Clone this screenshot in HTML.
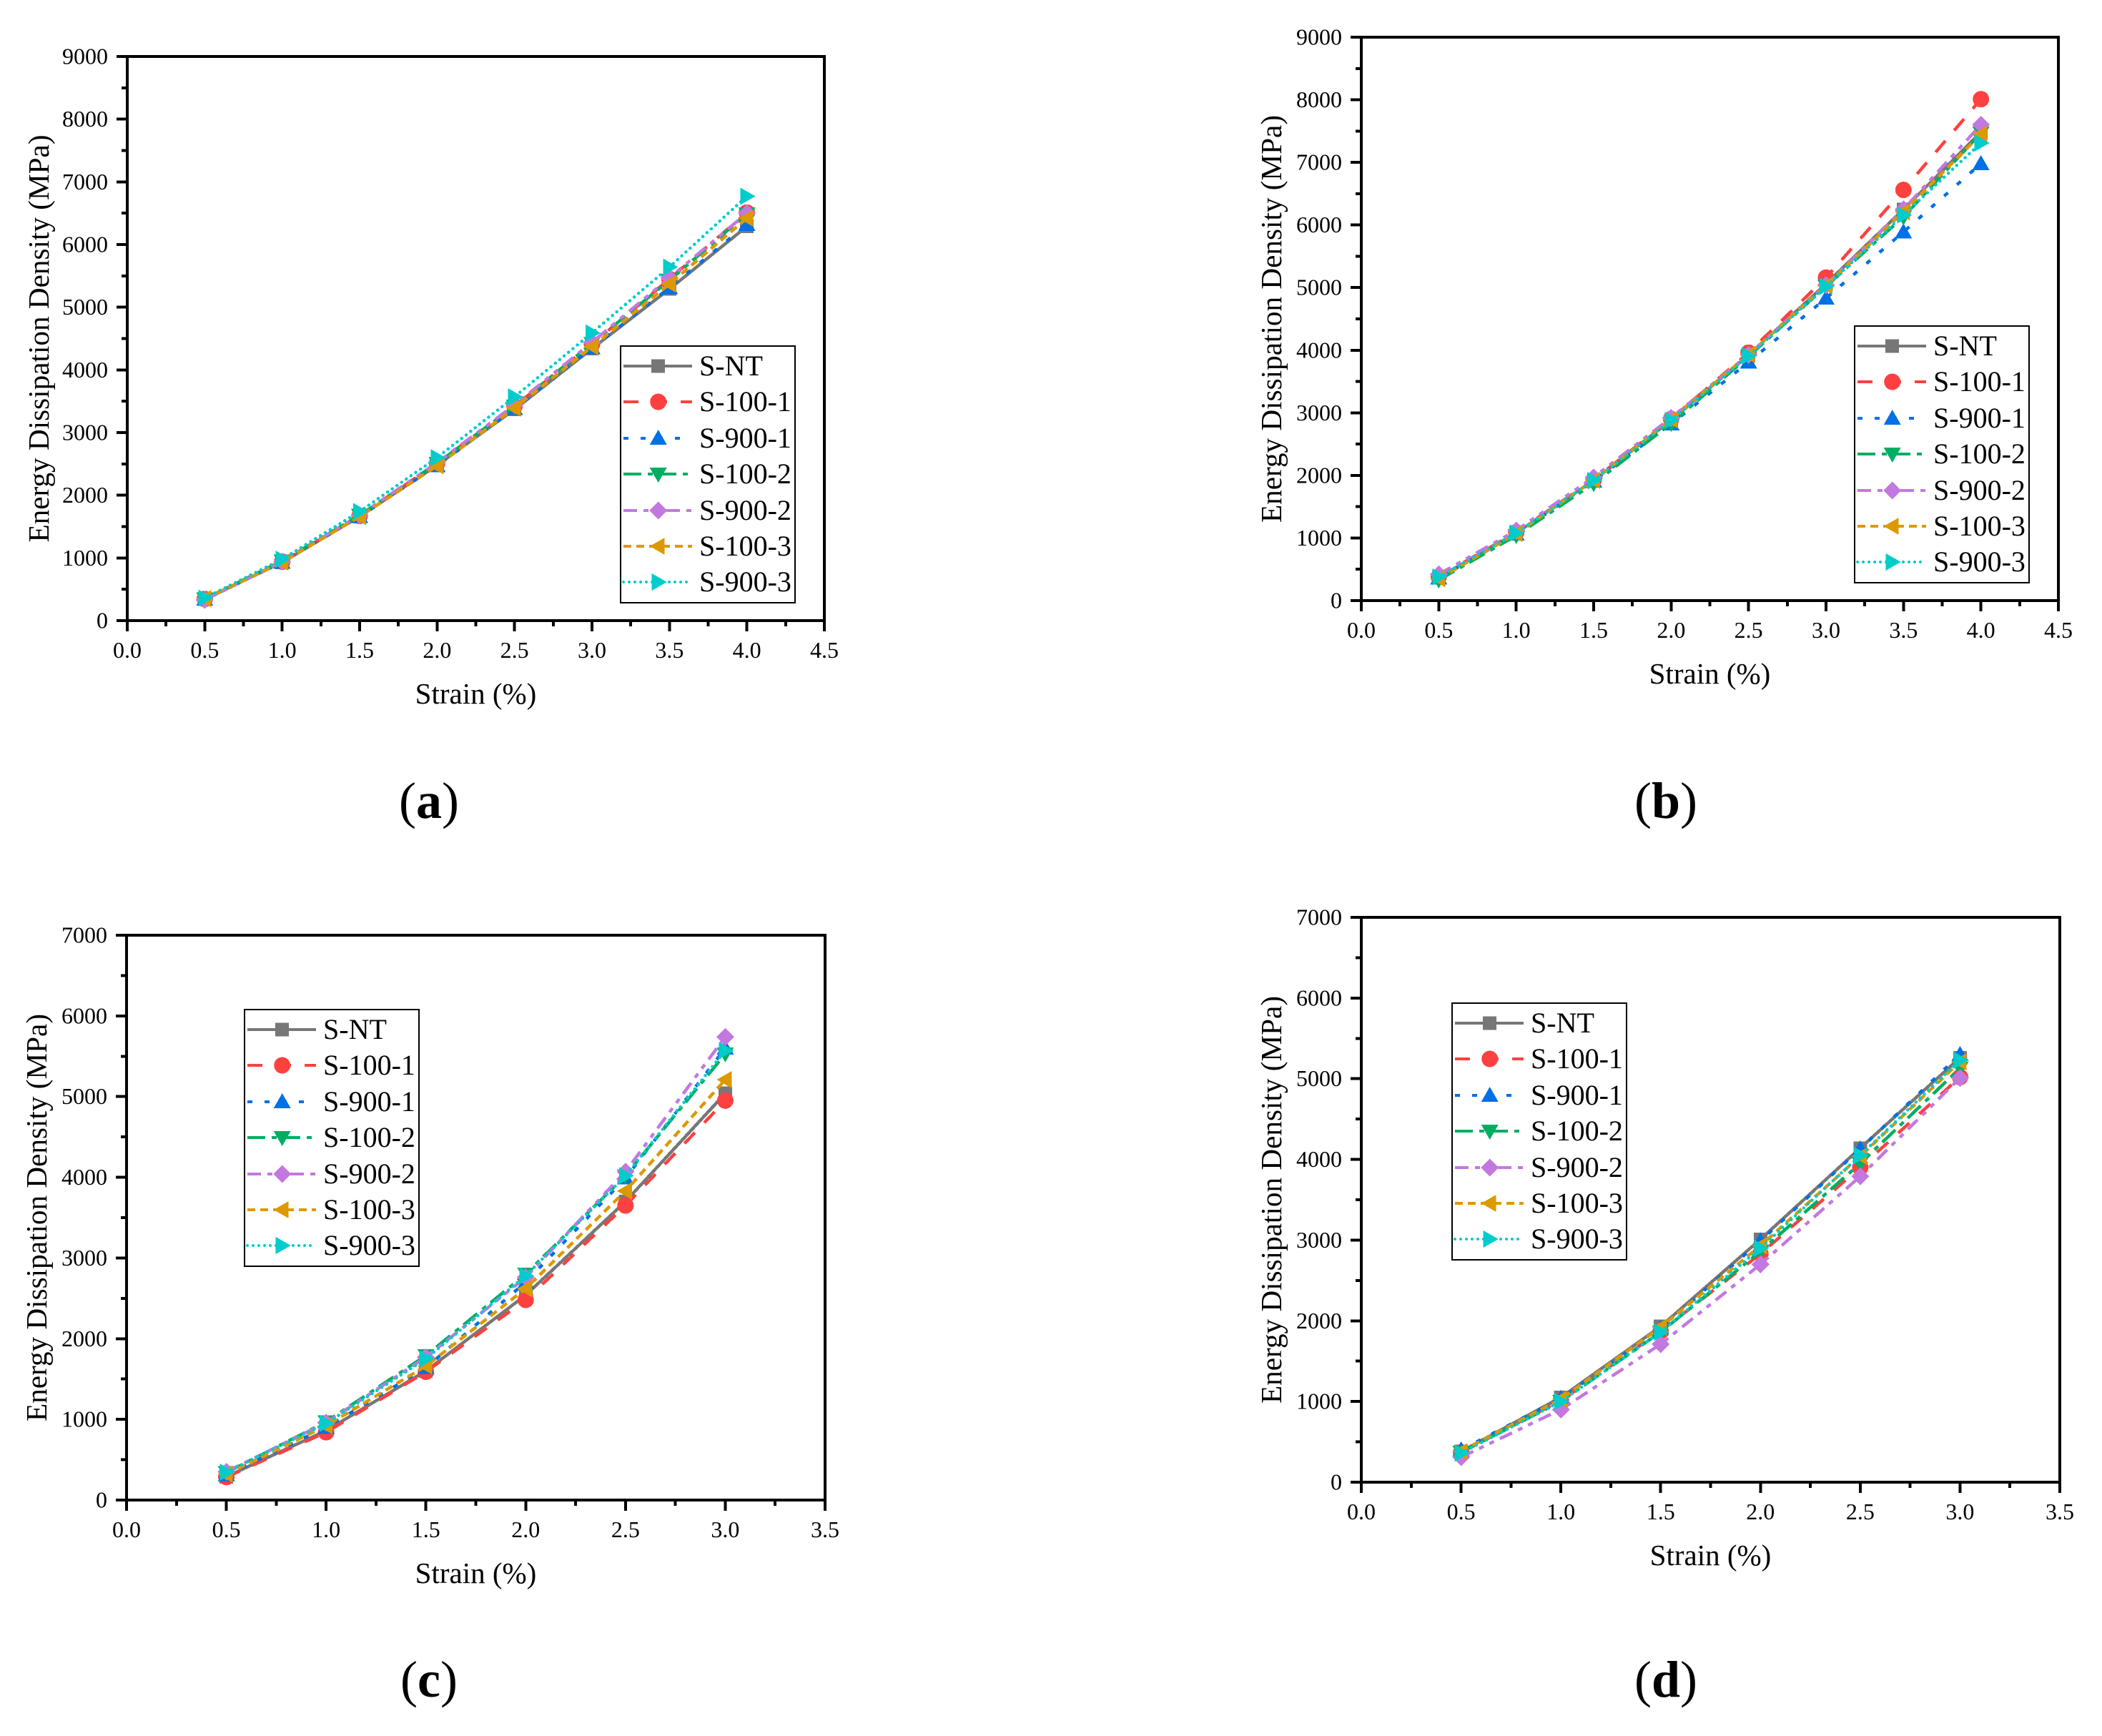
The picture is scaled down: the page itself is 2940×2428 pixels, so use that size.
<!DOCTYPE html>
<html lang="en">
<head>
<meta charset="utf-8">
<title>Energy dissipation density versus strain</title>
<style>
html,body{margin:0;padding:0;background:#fff;}
#figure{display:block;width:2940px;height:2428px;background:#fff;font-family:"Liberation Serif",serif;}
polyline,line,rect,polygon,circle{shape-rendering:crispEdges;}
</style>
</head>
<body>
<svg id="figure" xmlns="http://www.w3.org/2000/svg" width="2940" height="2428" viewBox="0 0 2940 2428"></svg>
<script>
// ---- data ----
const seriesNames = ['S-NT','S-100-1','S-900-1','S-100-2','S-900-2','S-100-3','S-900-3'];
const strainLong = [0.5,1.0,1.5,2.0,2.5,3.0,3.5,4.0];
const strainShort = [0.5,1.0,1.5,2.0,2.5,3.0];

const panelA_NT   = [340,930,1660,2480,3370,4340,5290,6290];
const panelA_1001 = [345,940,1670,2510,3420,4410,5450,6510];
const panelA_9001 = [340,930,1660,2470,3380,4350,5310,6320];
const panelA_1002 = [350,950,1680,2510,3420,4420,5430,6490];
const panelA_9002 = [330,940,1680,2520,3440,4440,5470,6500];
const panelA_1003 = [350,930,1660,2470,3390,4370,5370,6420];
const panelA_9003 = [360,980,1740,2600,3570,4590,5640,6770];

const panelB_NT   = [370,1080,1920,2880,3920,5060,6250,7480];
const panelB_1001 = [380,1090,1930,2900,3960,5160,6560,8010];
const panelB_9001 = [360,1060,1910,2820,3810,4830,5890,6980];
const panelB_1002 = [330,1040,1870,2830,3900,5020,6130,7470];
const panelB_9002 = [420,1120,1970,2920,3930,5040,6250,7600];
const panelB_1003 = [350,1070,1920,2890,3930,5030,6210,7450];
const panelB_9003 = [380,1080,1920,2880,3910,5020,6160,7310];

const panelC_NT   = [290,860,1600,2540,3700,5040];
const panelC_1001 = [285,840,1590,2480,3650,4950];
const panelC_9001 = [310,900,1640,2700,3990,5600];
const panelC_1002 = [340,970,1790,2800,4020,5530];
const panelC_9002 = [350,960,1770,2760,4070,5740];
const panelC_1003 = [320,920,1660,2620,3830,5210];
const panelC_9003 = [345,950,1750,2780,4020,5570];

const panelD_NT   = [380,1050,1930,3010,4140,5260];
const panelD_1001 = [370,1010,1870,2830,3900,5020];
const panelD_9001 = [400,1040,1900,2990,4130,5300];
const panelD_1002 = [370,1000,1860,2860,3950,5130];
const panelD_9002 = [310,900,1710,2700,3790,5010];
const panelD_1003 = [380,1030,1920,2930,4040,5210];
const panelD_9003 = [360,1000,1860,2900,4050,5230];

const xTicksLong  = [0,0.5,1,1.5,2,2.5,3,3.5,4,4.5];
const xTicksShort = [0,0.5,1,1.5,2,2.5,3,3.5];
const yTicksTall  = [0,1000,2000,3000,4000,5000,6000,7000,8000,9000];
const yTicksShort = [0,1000,2000,3000,4000,5000,6000,7000];

// ---- styling ----
const seriesColors = ['#777777','#ff4040','#0070e6','#00ae63','#c378e0','#dd9900','#00cccc'];
const seriesDashes = ['', '21 19', '7 17', '25 9 7 8', '19 9 7 9 7 9', '11 7', '0.1 7.9'];
const seriesCaps = ['butt','butt','butt','butt','butt','butt','round'];
const seriesMarkers = ['square','circle','up','down','diamond','left','right'];

const panels = [
  {key:'a', caption:'a', capX:600, capY:1144, left:178, right:1153, top:79, bottom:868, xTicks:xTicksLong, yTicks:yTicksTall, strain:strainLong,
   values:[panelA_NT,panelA_1001,panelA_9001,panelA_1002,panelA_9002,panelA_1003,panelA_9003], legX:868, legY:484, titleX:68},
  {key:'b', caption:'b', capX:2330, capY:1144, left:1904, right:2879, top:52, bottom:840, xTicks:xTicksLong, yTicks:yTicksTall, strain:strainLong,
   values:[panelB_NT,panelB_1001,panelB_9001,panelB_1002,panelB_9002,panelB_1003,panelB_9003], legX:2594, legY:456, titleX:1792},
  {key:'c', caption:'c', capX:600, capY:2373, left:177, right:1154, top:1308, bottom:2098, xTicks:xTicksShort, yTicks:yTicksShort, strain:strainShort,
   values:[panelC_NT,panelC_1001,panelC_9001,panelC_1002,panelC_9002,panelC_1003,panelC_9003], legX:342, legY:1412, titleX:65},
  {key:'d', caption:'d', capX:2330, capY:2373, left:1904, right:2881, top:1283, bottom:2073, xTicks:xTicksShort, yTicks:yTicksShort, strain:strainShort,
   values:[panelD_NT,panelD_1001,panelD_9001,panelD_1002,panelD_9002,panelD_1003,panelD_9003], legX:2031, legY:1403, titleX:1792}
];

const SVGNS = 'http://www.w3.org/2000/svg';
const root = document.getElementById('figure');

function make(parent, tag, attrs, text) {
  const el = document.createElementNS(SVGNS, tag);
  for (const k in attrs) el.setAttribute(k, attrs[k]);
  if (text !== undefined) el.textContent = text;
  parent.appendChild(el);
  return el;
}

function drawMarker(parent, type, cx, cy, color) {
  let el;
  if (type === 'square') {
    el = make(parent, 'rect', {x:cx-9.5, y:cy-9.5, width:19, height:19, fill:color});
  } else if (type === 'circle') {
    el = make(parent, 'circle', {cx:cx, cy:cy, r:11.5, fill:color});
  } else {
    let pts;
    if (type === 'up') pts = [[cx,cy-12],[cx+12,cy+9],[cx-12,cy+9]];
    if (type === 'down') pts = [[cx,cy+12],[cx+12,cy-9],[cx-12,cy-9]];
    if (type === 'left') pts = [[cx-12,cy],[cx+9,cy-12],[cx+9,cy+12]];
    if (type === 'right') pts = [[cx+12,cy],[cx-9,cy-12],[cx-9,cy+12]];
    if (type === 'diamond') pts = [[cx,cy-12.5],[cx+12.5,cy],[cx,cy+12.5],[cx-12.5,cy]];
    el = make(parent, 'polygon', {points:pts.map(p => p.join(',')).join(' '), fill:color});
  }
  return el;
}

function drawPanel(p) {
  const g = make(root, 'g', {});
  
  

  const xMin = p.xTicks[0], xMax = p.xTicks[p.xTicks.length - 1];
  const yMin = p.yTicks[0], yMax = p.yTicks[p.yTicks.length - 1];
  const xPos = v => p.left + (v - xMin) / (xMax - xMin) * (p.right - p.left);
  const yPos = v => p.bottom - (v - yMin) / (yMax - yMin) * (p.bottom - p.top);

  // x ticks
  const xAxis = make(g, 'g', {});
  
  
  p.xTicks.forEach((t, i) => {
    const x = xPos(t);
    const tick = make(xAxis, 'line', {x1:x, x2:x, y1:p.bottom, y2:p.bottom + 15, stroke:'#000', 'stroke-width':4});
    
    
    const label = make(xAxis, 'text', {x:x, y:p.bottom + 52, 'text-anchor':'middle', 'font-size':32, fill:'#000'}, t.toFixed(1));
    
    
    if (i < p.xTicks.length - 1) {
      const mx = xPos((t + p.xTicks[i + 1]) / 2);
      const minor = make(xAxis, 'line', {x1:mx, x2:mx, y1:p.bottom, y2:p.bottom + 8, stroke:'#000', 'stroke-width':4});
      
      
    }
  });

  // y ticks
  const yAxis = make(g, 'g', {});
  
  
  p.yTicks.forEach((t, i) => {
    const y = yPos(t);
    const tick = make(yAxis, 'line', {x1:p.left - 15, x2:p.left, y1:y, y2:y, stroke:'#000', 'stroke-width':4});
    
    
    const label = make(yAxis, 'text', {x:p.left - 27, y:y + 10.5, 'text-anchor':'end', 'font-size':32, fill:'#000'}, String(t));
    
    
    if (i < p.yTicks.length - 1) {
      const my = yPos((t + p.yTicks[i + 1]) / 2);
      const minor = make(yAxis, 'line', {x1:p.left - 8, x2:p.left, y1:my, y2:my, stroke:'#000', 'stroke-width':4});
      
      
    }
  });

  // frame
  const frame = make(g, 'rect', {x:p.left, y:p.top, width:p.right - p.left, height:p.bottom - p.top, fill:'none', stroke:'#000', 'stroke-width':4});
  
  

  // axis titles
  const xTitle = make(g, 'text', {x:(p.left + p.right) / 2, y:p.bottom + 116, 'text-anchor':'middle', 'font-size':41, fill:'#000'}, 'Strain (%)');
  
  
  const midY = (p.top + p.bottom) / 2;
  const yTitle = make(g, 'text', {x:p.titleX, y:midY, 'text-anchor':'middle', 'font-size':41.2, fill:'#000', transform:'rotate(-90 ' + p.titleX + ' ' + midY + ')'}, 'Energy Dissipation Density (MPa)');
  
  

  // series
  p.values.forEach((vals, s) => {
    const sg = make(g, 'g', {});
    
    
    const pts = vals.map((v, i) => xPos(p.strain[i]).toFixed(2) + ',' + yPos(v).toFixed(2)).join(' ');
    const line = make(sg, 'polyline', {points:pts, fill:'none', stroke:seriesColors[s], 'stroke-width':4.5, 'stroke-dasharray':seriesDashes[s], 'stroke-linecap':seriesCaps[s], 'stroke-linejoin':'round'});
    
    
    vals.forEach((v, i) => {
      const m = drawMarker(sg, seriesMarkers[s], xPos(p.strain[i]), yPos(v), seriesColors[s]);
      
      
    });
  });

  // legend
  const leg = make(g, 'g', {});
  
  
  const box = make(leg, 'rect', {x:p.legX, y:p.legY, width:244, height:359, fill:'#fff', stroke:'#000', 'stroke-width':2});
  
  
  seriesNames.forEach((name, s) => {
    const cy = Math.round(p.legY + 28 + s * 50.4);
    const entry = make(leg, 'g', {});
    
    
    const sw = make(entry, 'line', {x1:p.legX + 4, x2:p.legX + 100, y1:cy, y2:cy, stroke:seriesColors[s], 'stroke-width':4, 'stroke-dasharray':seriesDashes[s], 'stroke-linecap':seriesCaps[s]});
    
    
    const mk = drawMarker(entry, seriesMarkers[s], p.legX + 52.7, cy, seriesColors[s]);
    
    
    const tx = make(entry, 'text', {x:p.legX + 110, y:cy + 13, 'font-size':40, fill:'#000'}, name);
    
    
  });

  // caption
  const cap = make(g, 'text', {x:p.capX, y:p.capY, 'text-anchor':'middle', 'font-size':72, fill:'#000'});
  
  
  make(cap, 'tspan', {}, '(');
  make(cap, 'tspan', {'font-weight':'bold'}, p.caption);
  make(cap, 'tspan', {}, ')');
}

panels.forEach(drawPanel);
</script>
</body>
</html>
